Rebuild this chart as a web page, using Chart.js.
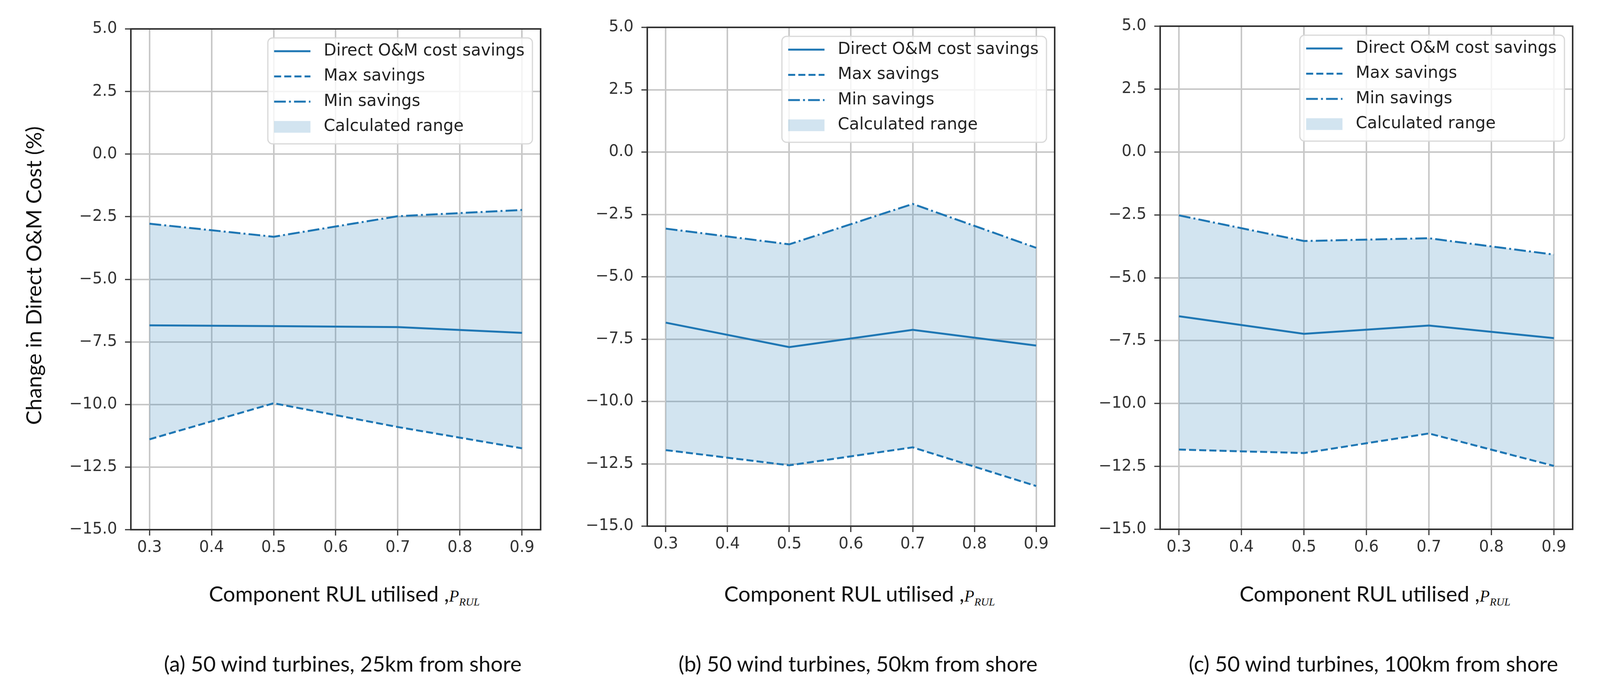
<!DOCTYPE html>
<html>
<head>
<meta charset="utf-8">
<title>Direct O&amp;M cost change vs component RUL utilised</title>
<script src="https://cdn.jsdelivr.net/npm/chart.js@4.4.1/dist/chart.umd.min.js"></script>
<style>
  html, body { margin: 0; padding: 0; background: #fff; }
  body { width: 4125px; height: 1760px; position: relative; overflow: hidden; }
  .panel { position: absolute; }
  .txt {
    position: absolute; white-space: nowrap; color: #111;
    font-family: Lato, "Open Sans", sans-serif; font-size: 55px;
    transform: translate(-50%, -50%);
  }
  .ylabel { transform: translate(-50%, -50%) rotate(-90deg); }
  .math { font-family: "Liberation Serif", "DejaVu Serif", serif; font-style: italic; font-size: 42px; }
  .math sub { font-size: 28px; vertical-align: -10px; }
</style>
</head>
<body>
<div id="yTitle" class="txt ylabel">Change in Direct O&amp;M Cost (%)</div>

<script>
// Valeurs
const rulUtilised = [0.3, 0.5, 0.7, 0.9];
const xTickValues = [0.3, 0.4, 0.5, 0.6, 0.7, 0.8, 0.9];
const yTickValues = [-15, -12.5, -10, -7.5, -5, -2.5, 0, 2.5, 5];
const seriesLabels = ['Direct O&M cost savings', 'Max savings', 'Min savings', 'Calculated range'];

// (a) 25km from shore
const directA = [-6.84, -6.87, -6.91, -7.14];
const maxA = [-11.39, -9.95, -10.90, -11.75];
const minA = [-2.78, -3.30, -2.48, -2.23];

// (b) 50km from shore
const directB = [-6.84, -7.82, -7.13, -7.76];
const maxB = [-11.95, -12.56, -11.84, -13.39];
const minB = [-3.07, -3.70, -2.08, -3.84];

// (c) 100km from shore
const directC = [-6.53, -7.23, -6.90, -7.40];
const maxC = [-11.83, -11.97, -11.19, -12.48];
const minC = [-2.52, -3.54, -3.43, -4.08];

const captions = [
    '(a) 50 wind turbines, 25km from shore',
    '(b) 50 wind turbines, 50km from shore',
    '(c) 50 wind turbines, 100km from shore'
];

// Position des zones de tracé (px)
const panelBoxes = [
    { left: 335, right: 1384, top: 74, bottom: 1355 },
    { left: 1657, right: 2700, top: 70, bottom: 1346 },
    { left: 2970, right: 4026, top: 67, bottom: 1354 }
];
const Y_AXIS_W = 185, X_AXIS_H = 110, RIGHT_PAD = 20;
const blue = '#1f77b4';

// Cadre complet autour de la zone de tracé
const framePlugin = {
    id: 'frame',
    afterDatasetsDraw(chart) {
        const { ctx, chartArea: a } = chart;
        ctx.save();
        ctx.strokeStyle = '#333';
        ctx.lineWidth = 4;
        ctx.strokeRect(a.left, a.top, a.right - a.left, a.bottom - a.top);
        ctx.restore();
    }
};

// Légende façon matplotlib, en haut à droite
const legendPlugin = {
    id: 'boxLegend',
    afterDraw(chart) {
        const { ctx, chartArea: a } = chart;
        const sets = chart.data.datasets;
        ctx.save();
        ctx.font = '42px "DejaVu Sans"';
        const textW = Math.max(...sets.map(d => ctx.measureText(d.label).width));
        const pad = 16, handle = 93, gap = 34, rowH = 64.5;
        const w = pad + handle + gap + textW + 20, h = 271;
        const x = a.right - 21 - w, y = a.top + 23, r = 12;

        ctx.beginPath();
        ctx.moveTo(x + r, y);
        ctx.arcTo(x + w, y, x + w, y + h, r);
        ctx.arcTo(x + w, y + h, x, y + h, r);
        ctx.arcTo(x, y + h, x, y, r);
        ctx.arcTo(x, y, x + w, y, r);
        ctx.closePath();
        ctx.fillStyle = 'rgba(255,255,255,0.8)';
        ctx.fill();
        ctx.strokeStyle = '#d8d8d8';
        ctx.lineWidth = 3;
        ctx.stroke();

        sets.forEach((d, i) => {
            const cy = y + 34 + i * rowH;
            const hx = x + pad;
            if (d.fill) {
                ctx.fillStyle = d.backgroundColor;
                ctx.fillRect(hx, cy - 15, handle, 30);
            } else {
                ctx.strokeStyle = d.borderColor;
                ctx.lineWidth = d.borderWidth;
                ctx.setLineDash(d.borderDash || []);
                ctx.beginPath();
                ctx.moveTo(hx, cy);
                ctx.lineTo(hx + handle, cy);
                ctx.stroke();
                ctx.setLineDash([]);
            }
            ctx.fillStyle = '#222';
            ctx.textBaseline = 'middle';
            ctx.fillText(d.label, hx + handle + gap, cy);
        });
        ctx.restore();
    }
};

function fmtY(v) {
    return (v < 0 ? '\u2212' : '') + Math.abs(v).toFixed(1);
}

function makePanel(idx, direct, max, min) {
    const box = panelBoxes[idx];
    const wrap = document.createElement('div');
    wrap.className = 'panel';
    const left = box.left - Y_AXIS_W;
    wrap.style.left = left + 'px';
    wrap.style.top = '0px';
    wrap.style.width = (box.right + RIGHT_PAD - left) + 'px';
    wrap.style.height = (box.bottom + X_AXIS_H) + 'px';
    const canvas = document.createElement('canvas');
    wrap.appendChild(canvas);
    document.body.appendChild(wrap);

    const pts = arr => arr.map((v, i) => ({ x: rulUtilised[i], y: v }));
    const tickFont = { family: 'DejaVu Sans', size: 40 };

    new Chart(canvas, {
        type: 'line',
        data: {
            datasets: [
                { label: seriesLabels[0], data: pts(direct), borderColor: blue, borderWidth: 5, pointRadius: 0, fill: false },
                { label: seriesLabels[1], data: pts(max), borderColor: blue, borderWidth: 5, borderDash: [18, 8], pointRadius: 0, fill: false },
                { label: seriesLabels[2], data: pts(min), borderColor: blue, borderWidth: 5, borderDash: [30, 8, 5, 8], pointRadius: 0, fill: false },
                { label: seriesLabels[3], data: pts(max), borderColor: 'transparent', borderWidth: 0, pointRadius: 0,
                  backgroundColor: 'rgba(31,119,180,0.2)', fill: 2 }
            ]
        },
        options: {
            responsive: true,
            maintainAspectRatio: false,
            animation: false,
            layout: { padding: { top: box.top, right: RIGHT_PAD, left: 0, bottom: 0 } },
            plugins: { legend: { display: false }, tooltip: { enabled: false } },
            scales: {
                x: {
                    type: 'linear', min: 0.27, max: 0.93,
                    afterBuildTicks: s => { s.ticks = xTickValues.map(v => ({ value: v })); },
                    afterFit: s => { s.height = X_AXIS_H; },
                    grid: { color: '#c8c8c8', lineWidth: 4, tickLength: 15, tickColor: '#333', tickWidth: 3 },
                    border: { display: false },
                    ticks: { color: '#333', font: tickFont, padding: 8, autoSkip: false, maxRotation: 0,
                             callback: v => v.toFixed(1) }
                },
                y: {
                    min: -15, max: 5,
                    afterBuildTicks: s => { s.ticks = yTickValues.map(v => ({ value: v })); },
                    afterFit: s => { s.width = Y_AXIS_W; },
                    grid: { color: '#c8c8c8', lineWidth: 4, tickLength: 15, tickColor: '#333', tickWidth: 3 },
                    border: { display: false },
                    ticks: { color: '#333', font: tickFont, padding: 20, autoSkip: false, callback: fmtY }
                }
            }
        },
        plugins: [framePlugin, legendPlugin]
    });

    // titre d'axe x et légende de la sous-figure
    const mid = (box.left + box.right) / 2;
    const xl = document.createElement('div');
    xl.className = 'txt';
    xl.innerHTML = 'Component RUL utilised ,<span class="math">P<sub>RUL</sub></span>';
    xl.style.left = (mid + 22) + 'px';
    xl.style.top = '1520px';
    document.body.appendChild(xl);

    const cap = document.createElement('div');
    cap.className = 'txt';
    cap.textContent = captions[idx];
    cap.style.left = (mid + 18) + 'px';
    cap.style.top = '1697px';
    document.body.appendChild(cap);
}

document.addEventListener('DOMContentLoaded', () => {
    makePanel(0, directA, maxA, minA);
    makePanel(1, directB, maxB, minB);
    makePanel(2, directC, maxC, minC);
    const yt = document.getElementById('yTitle');
    yt.style.left = '85px';
    yt.style.top = '705px';
});
</script>
</body>
</html>
